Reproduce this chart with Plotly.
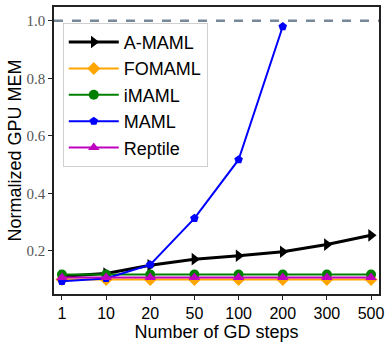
import plotly.graph_objects as go

steps = ["1", "10", "20", "50", "100", "200", "300", "500"]
amaml = [0.112, 0.121, 0.150, 0.171, 0.183, 0.197, 0.222, 0.254]
fomaml = [0.100, 0.100, 0.100, 0.100, 0.100, 0.100, 0.100, 0.100]
imaml = [0.118, 0.118, 0.118, 0.118, 0.118, 0.118, 0.118, 0.118]
maml_steps = ["1", "10", "20", "50", "100", "200"]
maml = [0.094, 0.104, 0.152, 0.313, 0.517, 0.980]
reptile = [0.107, 0.107, 0.107, 0.107, 0.107, 0.107, 0.107, 0.107]

fig = go.Figure()
series = [
    ("A-MAML", steps, amaml, "black", "triangle-right", 3, 11),
    ("FOMAML", steps, fomaml, "#FFA500", "diamond", 2, 10),
    ("iMAML", steps, imaml, "#008000", "circle", 2, 10),
    ("MAML", maml_steps, maml, "#0000FF", "pentagon", 2, 9),
    ("Reptile", steps, reptile, "#BF00BF", "triangle-up", 2, 10),
]
for name, xs, ys, col, sym, lw, ms in series:
    fig.add_trace(go.Scatter(x=xs, y=ys, name=name, mode="lines+markers",
                             line=dict(color=col, width=lw),
                             marker=dict(symbol=sym, size=ms, color=col)))

fig.add_hline(y=1.0, line=dict(color="#778899", width=2.5, dash="dash"))

fig.update_layout(
    width=389, height=342,
    margin=dict(l=54, r=5, t=7, b=42),
    plot_bgcolor="white", paper_bgcolor="white",
    showlegend=True,
    legend=dict(x=0.027, y=0.945, xanchor="left", yanchor="top",
                bgcolor="white", bordercolor="#d0d0d0", borderwidth=1,
                font=dict(family="Liberation Sans, Arial", size=18, color="black"),
                tracegroupgap=0, itemwidth=50),
    xaxis=dict(type="category", categoryorder="array", categoryarray=steps,
               range=[-0.18, 7.18], showgrid=False, zeroline=False,
               showline=True, linecolor="#222", linewidth=1.5, mirror=True,
               ticks="outside", ticklen=4, tickcolor="#222",
               tickfont=dict(family="Liberation Sans, Arial", size=16, color="black"),
               title=dict(text="Number of GD steps", standoff=2,
                          font=dict(family="Liberation Sans, Arial", size=18, color="black"))),
    yaxis=dict(range=[0.05, 1.048], tickvals=[0.2, 0.4, 0.6, 0.8, 1.0],
               ticktext=["0.2", "0.4", "0.6", "0.8", "1.0"],
               showgrid=False, zeroline=False,
               showline=True, linecolor="#222", linewidth=1.5, mirror=True,
               ticks="outside", ticklen=4, tickcolor="#222",
               tickfont=dict(family="Liberation Serif", size=15, color="#555"),
               title=dict(text="Normalized GPU MEM", standoff=0,
                          font=dict(family="Liberation Sans, Arial", size=18, color="black"))),
)

fig.write_html("out.html", config={"displayModeBar": False},
               post_script="document.body.style.margin='0';")
